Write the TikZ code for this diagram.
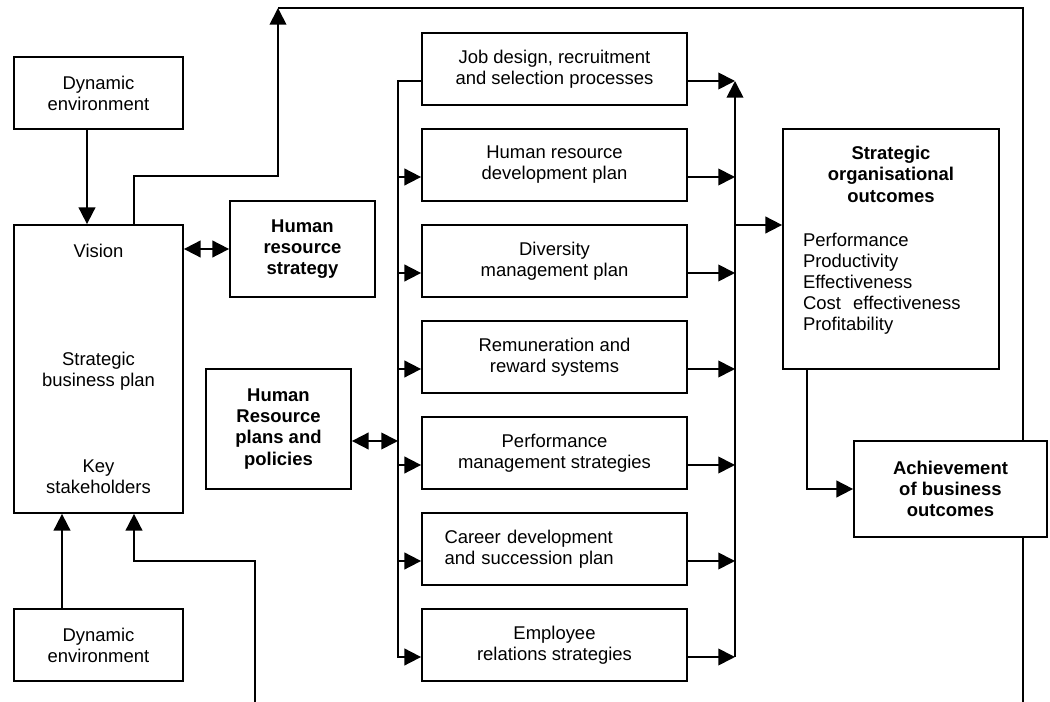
\documentclass[tikz,border=0pt]{standalone}
\usepackage{fontspec}
\setmainfont{Liberation Sans}
\usetikzlibrary{arrows.meta,positioning}
\newcommand{\diagfont}{\fontsize{10.5}{12}\selectfont}
\tikzset{font=\diagfont}
\tikzset{box/.style={draw, fill=white, align=center, minimum width=5.3cm, minimum height=1.44cm, inner sep=2pt}}
\tikzset{boldbox/.style={box, font=\diagfont\bfseries}}
\tikzset{arr/.style={-{Triangle[length=9.5pt,width=9.5pt]}}}
\tikzset{dbl/.style={{Triangle[length=9.5pt,width=9.5pt]}-{Triangle[length=9.5pt,width=9.5pt]}}}

\begin{document}
\begin{tikzpicture}[line width=1pt]
\useasboundingbox (0,0) rectangle (21,-14.04);
% feedback loop round the whole chart
\coordinate (fbTop) at (5.56,-0.16);
\coordinate (fbRight) at (20.46,-0.16);
\coordinate (fbEnd) at (20.46,-14.04);
\coordinate (fbBot) at (5.1,-14.04);
\draw (fbTop) -- (fbRight) -- (fbEnd);

% left column
\node[box, minimum width=3.38cm] (envTop) at (1.97,-1.86) {Dynamic\\environment};
\node[box, minimum width=3.38cm, minimum height=5.76cm] (plan) at (1.97,-7.38)
  {Vision\\[1.72cm]Strategic\\business plan\\[1.3cm]Key\\stakeholders};
\node[box, minimum width=3.38cm] (envBot) at (1.97,-12.9) {Dynamic\\environment};

\node[boldbox, minimum width=2.9cm, minimum height=1.92cm] (hrs) at (6.05,-4.98) {Human\\resource\\strategy};
\node[boldbox, minimum width=2.9cm, minimum height=2.4cm] (hrp) at (5.57,-8.58) {Human\\Resource\\plans and\\policies};

% HR plans
\node[box] (m1) at (11.09,-1.38) {Job design, recruitment\\and selection processes};
\node[box] (m2) at (11.09,-3.30) {Human resource\\development plan};
\node[box] (m3) at (11.09,-5.22) {Diversity\\management plan};
\node[box] (m4) at (11.09,-7.14) {Remuneration and\\reward systems};
\node[box] (m5) at (11.09,-9.06) {Performance\\management strategies};
\node[box, align=left, text width=4.4cm, inner xsep=0.45cm] (m6) at (11.09,-10.98) {Career development\\and succession plan};
\node[box] (m7) at (11.09,-12.90) {Employee\\relations strategies};

% outcomes
\node[box, minimum width=4.32cm, minimum height=4.8cm, text width=3.52cm, inner xsep=0.4cm, align=left] (soo) at (17.82,-4.98)
  {{\centering\bfseries Strategic\\organisational\\outcomes\par}\vspace{13pt}Performance\\Productivity\\Effectiveness\\Cost\ \ effectiveness\\Profitability\\\mbox{}};
\node[boldbox, minimum width=3.86cm, minimum height=1.92cm] (ach) at (19.01,-9.78) {Achievement\\of business\\outcomes};

\coordinate (busL) at (7.96,0);
\coordinate (busR) at (14.7,0);

\draw[arr] ([xshift=-2.3mm]envTop.south) -- ([xshift=-2.3mm]plan.north);
\draw[arr] ([xshift=-7.3mm]envBot.north) -- ([xshift=-7.3mm]plan.south);
\draw[arr] ([xshift=7.1mm]plan.north) -- ++(0,0.96) -| (fbTop);
\draw[arr] (fbBot) -- ++(0,2.82) -| ([xshift=7.1mm]plan.south);
\draw[dbl] (plan.east |- hrs.west) -- (hrs.west);
\draw[dbl] ([yshift=-2.4mm]hrp.east) -- ([yshift=-2.4mm]busL |- hrp.east);

\draw[arr] ([yshift=-2.4mm]m1.west) -| ([yshift=-2.4mm]busL |- m7.west) -- ([yshift=-2.4mm]m7.west);
\foreach \i in {2,...,6}
\draw[arr] ([yshift=-2.4mm]busL |- m\i.west) -- ([yshift=-2.4mm]m\i.west);
\foreach \i in {1,...,7}
\draw[arr] ([yshift=-2.4mm]m\i.east) -- ([yshift=-2.4mm]busR |- m\i.east);
\draw[arr] ([yshift=-2.4mm]busR |- m7.east) -- ([yshift=-2.4mm]busR |- m1.east);

\draw[arr] ([yshift=4.8mm]busR |- soo.west) -- ([yshift=4.8mm]soo.west);
\draw[arr] ([xshift=-16.8mm]soo.south) |- (ach.west);
\end{tikzpicture}
\end{document}
